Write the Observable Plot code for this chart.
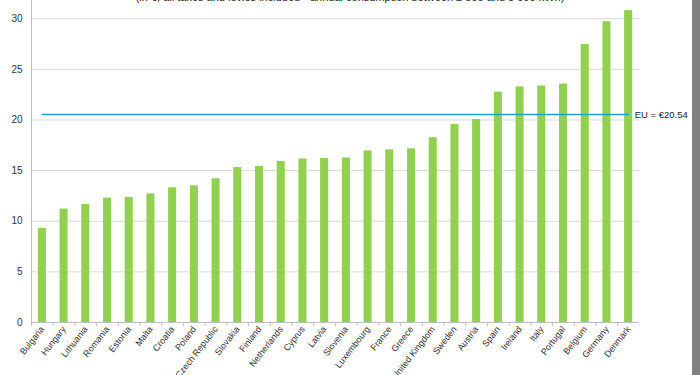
<!DOCTYPE html>
<html>
<head>
<meta charset="utf-8">
<script src="https://cdn.jsdelivr.net/npm/d3@7"></script>
<script src="https://cdn.jsdelivr.net/npm/@observablehq/plot@0.6"></script>
<style>
  html, body { margin: 0; padding: 0; background: #fff; overflow: hidden; }
  #wrap { position: relative; width: 700px; height: 375px; font-family: "Liberation Sans", Arial, sans-serif; }
  #title { position: absolute; top: -9px; left: 0; width: 700px; text-align: center; font-size: 11px; color: #222; }
  #edge { position: absolute; top: 0; right: 0; width: 8px; height: 375px; background: #808080; }
  #chart { position: absolute; top: 0; left: 0; }
</style>
</head>
<body>
<div id="wrap">
  <div id="chart"></div>
  <div id="title">(in €, all taxes and levies included - annual consumption between 2 500 and 5 000 kWh)</div>
  <div id="edge"></div>
</div>
<script>
const countries = ["Bulgaria","Hungary","Lithuania","Romania","Estonia","Malta","Croatia","Poland","Czech Republic","Slovakia","Finland","Netherlands","Cyprus","Latvia","Slovenia","Luxembourg","France","Greece","United Kingdom","Sweden","Austria","Spain","Ireland","Italy","Portugal","Belgium","Germany","Denmark"];
const prices = [9.3,11.2,11.65,12.28,12.35,12.7,13.3,13.5,14.2,15.3,15.4,15.9,16.15,16.2,16.25,16.95,17.05,17.15,18.25,19.55,20.05,22.75,23.27,23.35,23.55,27.45,29.7,30.8];
const euAverage = 20.54;
const euLabel = "EU = €20.54";
const yTicks = [0,5,10,15,20,25,30];

const data = countries.map((c, i) => ({country: c, price: prices[i]}));

const W = 700, H = 375, mL = 31, mR = 61, mT = 0, mB = 53;
const step = (W - mL - mR) / countries.length;

const chart = Plot.plot({
  width: W, height: H,
  marginLeft: mL, marginRight: mR, marginTop: mT, marginBottom: mB,
  style: {fontFamily: "Liberation Sans, Arial, sans-serif", background: "transparent", overflow: "visible"},
  x: {domain: countries, paddingInner: 0.63, paddingOuter: 0.315, round: false, label: null},
  y: {domain: [0, 31.8], label: null},
  marks: [
    Plot.gridY(yTicks.filter(d => d > 0), {stroke: "#d9d9d9", strokeOpacity: 1}),
    Plot.frame({anchor: "left", stroke: "#bfbfbf"}),
    Plot.barY(data, {x: "country", y: "price", fill: "#92d050"}),
    Plot.ruleY([0], {stroke: "#bfbfbf"}),
    Plot.lineY(data, {x: "country", y: () => euAverage, stroke: "#1aa3d5", strokeWidth: 1.5}),
    Plot.text([euLabel], {x: () => countries[countries.length - 1], y: () => euAverage, text: d => d, textAnchor: "start", dx: 6, fontSize: 9.5, fill: "#222"}),
    Plot.axisY({ticks: yTicks, tickSize: 0, tickPadding: 9, fontSize: 10, fill: "#333", tickFormat: d => d}),
    Plot.axisX({tickSize: 0, tickRotate: -52, tickPadding: 5, fontSize: 9, fill: "#333"}),
    Plot.axisX({tickSize: 4, text: null, dx: -step / 2, stroke: "#bfbfbf"})
  ]
});
document.getElementById("chart").appendChild(chart);
</script>
</body>
</html>
